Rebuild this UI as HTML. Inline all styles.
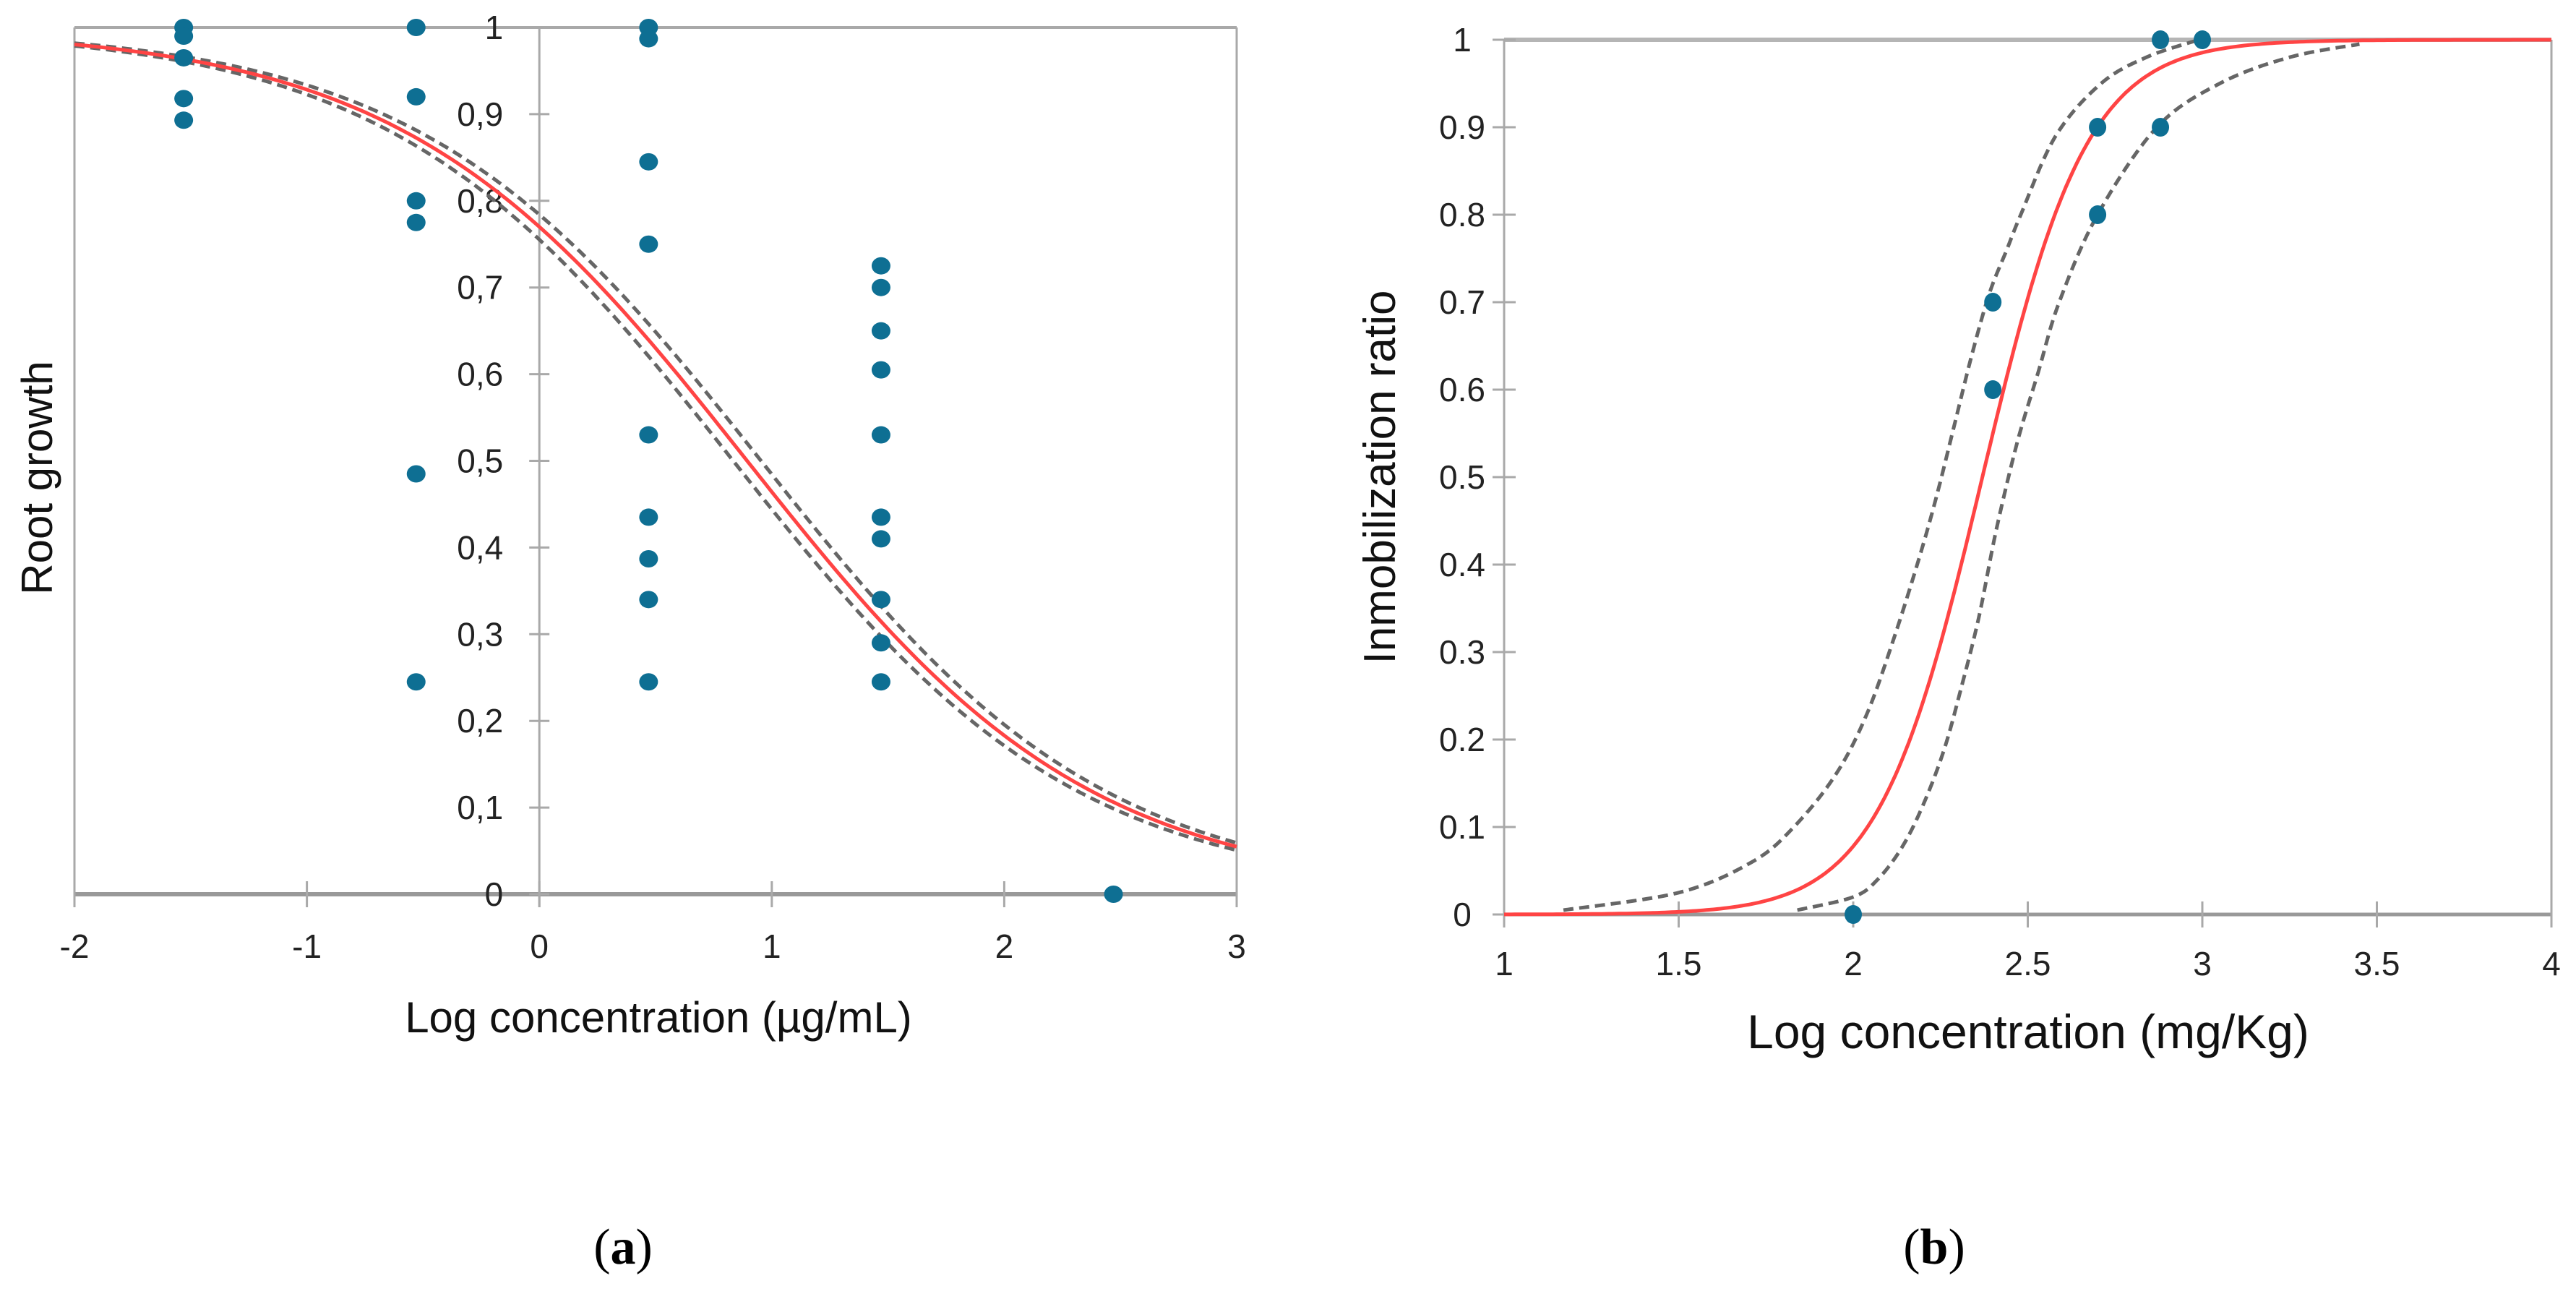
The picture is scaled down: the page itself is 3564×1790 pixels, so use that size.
<!DOCTYPE html>
<html><head><meta charset="utf-8">
<style>
html,body{margin:0;padding:0;background:#fff;}
svg{display:block;}
.tick{font-family:"Liberation Sans Narrow","Liberation Sans",sans-serif;font-size:46px;fill:#222;}
.title{font-family:"Liberation Sans",sans-serif;fill:#111;}
</style></head>
<body>
<svg id="fig" width="3564" height="1790" viewBox="0 0 3564 1790" xmlns="http://www.w3.org/2000/svg">
<g id="pa"></g>
<g id="pb"></g>
<text x="862" y="1748" text-anchor="middle" font-family="Liberation Serif,serif" font-size="70">(<tspan font-weight="bold">a</tspan>)</text>
<text x="2676" y="1748" text-anchor="middle" font-family="Liberation Serif,serif" font-size="70">(<tspan font-weight="bold">b</tspan>)</text>
</svg>
<script>
// ---------- Panel A data ----------
const aXTicks = [-2,-1,0,1,2,3];
const aXTickLabels = ["-2","-1","0","1","2","3"];
const aYTicks = [0,0.1,0.2,0.3,0.4,0.5,0.6,0.7,0.8,0.9,1];
const aYTickLabels = ["0","0,1","0,2","0,3","0,4","0,5","0,6","0,7","0,8","0,9","1"];
const aPointX = [-1.53,-1.53,-1.53,-1.53,-1.53,
  -0.53,-0.53,-0.53,-0.53,-0.53,-0.53,
  0.47,0.47,0.47,0.47,0.47,0.47,0.47,0.47,0.47,
  1.47,1.47,1.47,1.47,1.47,1.47,1.47,1.47,1.47,1.47,
  2.47];
const aPointY = [1.0,0.99,0.965,0.918,0.893,
  1.0,0.92,0.80,0.775,0.485,0.245,
  1.0,0.987,0.845,0.75,0.53,0.435,0.387,0.34,0.245,
  0.725,0.70,0.65,0.605,0.53,0.435,0.41,0.34,0.29,0.245,
  0];
const aFitSlope = [0.587];
const aFitMid = [0.894];
const aBandMid = [0.834, 0.954];

// ---------- Panel B data ----------
const bXTicks = [1,1.5,2,2.5,3,3.5,4];
const bXTickLabels = ["1","1.5","2","2.5","3","3.5","4"];
const bYTicks = [0,0.1,0.2,0.3,0.4,0.5,0.6,0.7,0.8,0.9,1];
const bYTickLabels = ["0","0.1","0.2","0.3","0.4","0.5","0.6","0.7","0.8","0.9","1"];
const bPointX = [2.0,2.4,2.4,2.7,2.7,2.88,2.88,3.0];
const bPointY = [0,0.7,0.6,0.9,0.8,1.0,0.9,1.0];
const bFitSlope = [2.9];
const bFitMid = [2.37];
const bUpperX = [1.17,1.5,1.71,1.83,1.95,2.04,2.12,2.19,2.24,2.29,2.34,2.39,2.44,2.48,2.58,2.71,2.84,2.99];
const bUpperY = [0.005,0.025,0.060,0.100,0.160,0.230,0.320,0.409,0.480,0.560,0.640,0.710,0.760,0.800,0.890,0.950,0.980,1.0];
const bLowerX = [1.84,2.0,2.07,2.14,2.20,2.26,2.31,2.36,2.41,2.47,2.53,2.59,2.70,2.87,3.05,3.25,3.45];
const bLowerY = [0.005,0.02,0.04,0.077,0.125,0.188,0.260,0.340,0.440,0.540,0.620,0.700,0.800,0.900,0.950,0.980,0.995];

const NS = "http://www.w3.org/2000/svg";
function mk(parent, tag, attrs){
  const e = document.createElementNS(NS, tag);
  for (const k in attrs) e.setAttribute(k, attrs[k]);
  parent.appendChild(e);
  return e;
}
const RED = "#ff4444", GRID = "#a9a9a9", DOT = "#0e6f93", DASH = "#666";

// ===== Panel A =====
(function(){
  const g = document.getElementById('pa');
  const x0 = 103, x1 = 1711, y0 = 1237, y1 = 38;
  const sx = v => x0 + (v - (-2)) / 5 * (x1 - x0);
  const sy = v => y0 - v * (y0 - y1);
  let l;
  l = mk(g,'line',{x1:sx(-2),y1:y1,x2:sx(3),y2:y1,stroke:GRID,'stroke-width':4});
   
  l = mk(g,'line',{x1:sx(-2),y1:y1,x2:sx(-2),y2:y0+18,stroke:GRID,'stroke-width':3});
   
  l = mk(g,'line',{x1:sx(3),y1:y1,x2:sx(3),y2:y0+18,stroke:GRID,'stroke-width':3});
   
  l = mk(g,'line',{x1:sx(0),y1:y1,x2:sx(0),y2:y0+18,stroke:GRID,'stroke-width':3});
   
  l = mk(g,'line',{x1:sx(-2),y1:y0,x2:sx(3),y2:y0,stroke:"#999",'stroke-width':6});
   
  aXTicks.forEach((v,i)=>{
    const t = mk(g,'line',{x1:sx(v),y1:y0-18,x2:sx(v),y2:y0+18,stroke:GRID,'stroke-width':3});
     
    const tx = mk(g,'text',{x:sx(v),y:y0+88,'text-anchor':'middle','class':'tick'});
     
    tx.textContent = aXTickLabels[i];
  });
  aYTicks.forEach((v,i)=>{
    const t = mk(g,'line',{x1:sx(0)-14,y1:sy(v),x2:sx(0)+14,y2:sy(v),stroke:GRID,'stroke-width':3});
     
    const tx = mk(g,'text',{x:sx(0)-50,y:sy(v)+16,'text-anchor':'end','class':'tick'});
     
    tx.textContent = aYTickLabels[i];
  });
  function curve(mid){
    let d = "";
    for (let k=0;k<=200;k++){
      const xv = -2 + 5*k/200;
      const yv = 1/(1+Math.pow(10, aFitSlope[0]*(xv-mid)));
      d += (k?"L":"M") + sx(xv).toFixed(1) + " " + sy(yv).toFixed(1);
    }
    return d;
  }
  aBandMid.forEach(m=>{
    const p = mk(g,'path',{d:curve(m),fill:'none',stroke:DASH,'stroke-width':5,'stroke-dasharray':'14 8'});
     
  });
  const f = mk(g,'path',{d:curve(aFitMid[0]),fill:'none',stroke:RED,'stroke-width':5});
   
  aPointX.forEach((v,i)=>{
    const c = mk(g,'ellipse',{cx:sx(v),cy:sy(aPointY[i]),rx:13,ry:12,fill:DOT});
     
  });
  const xt = mk(g,'text',{x:911,y:1428,'text-anchor':'middle','class':'title','font-size':60});
   
  xt.textContent = "Log concentration (µg/mL)";
  const yt = mk(g,'text',{x:0,y:0,'text-anchor':'middle','class':'title','font-size':60,transform:'translate(72,661) rotate(-90)'});
   
  yt.textContent = "Root growth";
})();

// ===== Panel B =====
(function(){
  const g = document.getElementById('pb');
  const x0 = 2081, x1 = 3530, y0 = 1265, y1 = 55;
  const sx = v => x0 + (v - 1) / 3 * (x1 - x0);
  const sy = v => y0 - v * (y0 - y1);
  let l;
  l = mk(g,'line',{x1:sx(1),y1:sy(1),x2:sx(4),y2:sy(1),stroke:"#b5b5b5",'stroke-width':6});
   
  l = mk(g,'line',{x1:sx(1),y1:y1,x2:sx(1),y2:y0+18,stroke:GRID,'stroke-width':3});
   
  l = mk(g,'line',{x1:sx(4),y1:y1,x2:sx(4),y2:y0,stroke:GRID,'stroke-width':3});
   
  l = mk(g,'line',{x1:sx(1),y1:y0,x2:sx(4),y2:y0,stroke:"#999",'stroke-width':5});
   
  bXTicks.forEach((v,i)=>{
    const t = mk(g,'line',{x1:sx(v),y1:y0-18,x2:sx(v),y2:y0+18,stroke:GRID,'stroke-width':3});
     
    const tx = mk(g,'text',{x:sx(v),y:y0+84,'text-anchor':'middle','class':'tick'});
     
    tx.textContent = bXTickLabels[i];
  });
  bYTicks.forEach((v,i)=>{
    const t = mk(g,'line',{x1:sx(1)-16,y1:sy(v),x2:sx(1)+16,y2:sy(v),stroke:GRID,'stroke-width':3});
     
    const tx = mk(g,'text',{x:sx(1)-58,y:sy(v)+16,'text-anchor':'middle','class':'tick'});
     
    tx.textContent = bYTickLabels[i];
  });
  function poly(xs, ys){
    const P = xs.map((v,i)=>[sx(v), sy(ys[i])]);
    let d = "M" + P[0][0].toFixed(1) + " " + P[0][1].toFixed(1);
    for (let i=0;i<P.length-1;i++){
      const p0 = P[Math.max(0,i-1)], p1 = P[i], p2 = P[i+1], p3 = P[Math.min(P.length-1,i+2)];
      const c1 = [p1[0]+(p2[0]-p0[0])/6, p1[1]+(p2[1]-p0[1])/6];
      const c2 = [p2[0]-(p3[0]-p1[0])/6, p2[1]-(p3[1]-p1[1])/6];
      d += "C"+c1[0].toFixed(1)+" "+c1[1].toFixed(1)+" "+c2[0].toFixed(1)+" "+c2[1].toFixed(1)+" "+p2[0].toFixed(1)+" "+p2[1].toFixed(1);
    }
    return d;
  }
  let p = mk(g,'path',{d:poly(bUpperX,bUpperY),fill:'none',stroke:DASH,'stroke-width':5,'stroke-dasharray':'14 8'});
   
  p = mk(g,'path',{d:poly(bLowerX,bLowerY),fill:'none',stroke:DASH,'stroke-width':5,'stroke-dasharray':'14 8'});
   
  let d = "";
  for (let k=0;k<=300;k++){
    const xv = 1 + 3*k/300;
    const yv = 1/(1+Math.pow(10, bFitSlope[0]*(bFitMid[0]-xv)));
    d += (k?"L":"M") + sx(xv).toFixed(1) + " " + sy(yv).toFixed(1);
  }
  const f = mk(g,'path',{d:d,fill:'none',stroke:RED,'stroke-width':5});
   
  bPointX.forEach((v,i)=>{
    const c = mk(g,'ellipse',{cx:sx(v),cy:sy(bPointY[i]),rx:12,ry:13,fill:DOT});
     
  });
  const xt = mk(g,'text',{x:2806,y:1450,'text-anchor':'middle','class':'title','font-size':66});
   
  xt.textContent = "Log concentration (mg/Kg)";
  const yt = mk(g,'text',{x:0,y:0,'text-anchor':'middle','class':'title','font-size':62,transform:'translate(1930,660) rotate(-90)'});
   
  yt.textContent = "Inmobilization ratio";
})();
</script>
</body></html>
